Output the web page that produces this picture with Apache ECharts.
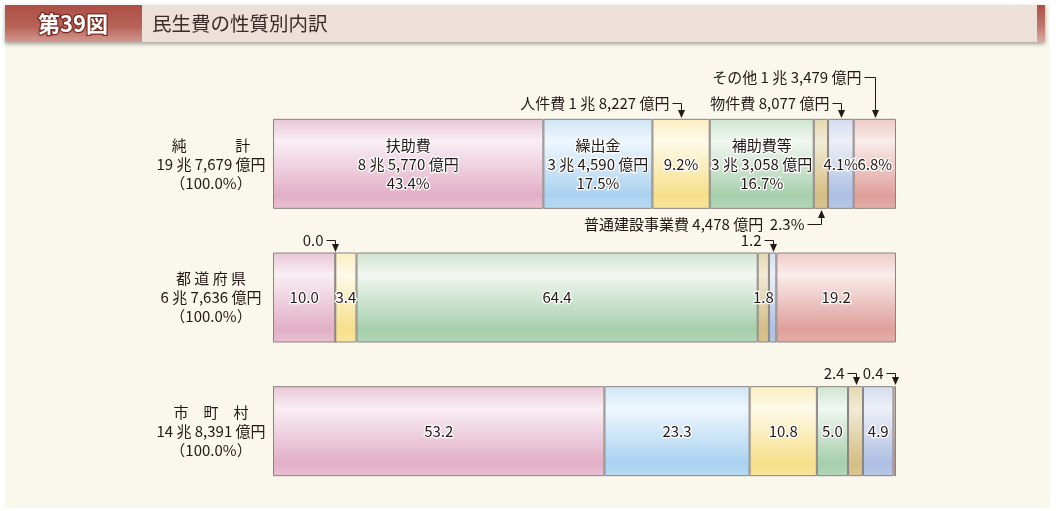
<!DOCTYPE html>
<html><head><meta charset="utf-8">
<script src="https://cdn.jsdelivr.net/npm/echarts/dist/echarts.min.js"></script>
<style>html,body{margin:0;padding:0;background:#fff;}#c{width:1059px;height:511px;}</style>
</head><body><div id="c"></div>
<script>
// ---- data ----
const rowLabels = ['純　　　 計\n19 兆 7,679 億円\n（100.0%）', '都 道 府 県\n6 兆 7,636 億円\n（100.0%）', '市　町　村\n14 兆 8,391 億円\n（100.0%）'];
const seriesNames = ['扶助費', '繰出金', '人件費', '補助費等', '普通建設事業費', '物件費', 'その他'];
const fujo      = [43.4, 10.0, 53.2];
const kuridashi = [17.5, 0.0, 23.3];
const jinken    = [9.2, 3.4, 10.8];
const hojo      = [16.7, 64.4, 5.0];
const kensetsu  = [2.3, 1.8, 2.4];
const bukken    = [4.1, 1.2, 4.9];
const sonota    = [6.8, 19.2, 0.4];
const totalAmounts = ['8 兆 5,770 億円', '3 兆 4,590 億円', '1 兆 8,227 億円', '3 兆 3,058 億円', '4,478 億円', '8,077 億円', '1 兆 3,479 億円'];
const seriesValues = [fujo, kuridashi, jinken, hojo, kensetsu, bukken, sonota];
// full (name/amount/%) inside labels in first row
const fullLabelSeries = [0, 1, 3];
// values shown outside with arrows: [series, row, text, side]
const externals = [
  [2, 0, '人件費 1 兆 8,227 億円', 'top1'],
  [5, 0, '物件費 8,077 億円', 'top1'],
  [6, 0, 'その他 1 兆 3,479 億円', 'top2'],
  [4, 0, '普通建設事業費 4,478 億円  2.3%', 'bottom'],
  [1, 1, '0.0', 'top'],
  [5, 1, '1.2', 'top'],
  [4, 2, '2.4', 'top'],
  [6, 2, '0.4', 'top']
];
const hiddenInside = ['4-0', '1-1', '5-1', '4-2', '6-2'];

// ---- styles ----
const FONT = '"Noto Sans CJK JP", "Noto Sans", sans-serif';
const palettes = [
  ['#e9c6d6', '#f9eef4', '#e2afc6', '#e8c1d2'],
  ['#cfe5f5', '#eef7fd', '#aad2f0', '#b9daf2'],
  ['#fbeec0', '#fefaea', '#f6df8a', '#f8e59c'],
  ['#cfe4d1', '#f1f7f1', '#a6cfac', '#b3d6b8'],
  ['#e4d8ae', '#f1ebd6', '#d4be84', '#d9c591'],
  ['#d3dcef', '#eef0f8', '#adbfe3', '#b7c7e6'],
  ['#eecac6', '#f9ecea', '#df9f9b', '#e4aeaa']
];
function grad(p) {
  return new echarts.graphic.LinearGradient(0, 0, 0, 1, [
    {offset: 0, color: p[0]}, {offset: 0.25, color: p[1]},
    {offset: 0.85, color: p[2]}, {offset: 1, color: p[3]}
  ]);
}

const chart = echarts.init(document.getElementById('c'), null, {renderer: 'canvas'});

const series = seriesNames.map((name, s) => ({
  name: name,
  type: 'bar',
  stack: 'total',
  barWidth: 90,
  data: seriesValues[s],
  itemStyle: {color: grad(palettes[s]), borderColor: '#8a8380', borderWidth: 1},
  label: {
    show: true,
    position: 'inside',
    color: '#231815',
    fontFamily: FONT,
    fontSize: 15,
    lineHeight: 19,
    textBorderColor: '#fff',
    textBorderWidth: 2.5,
    formatter: function (p) {
      const key = s + '-' + p.dataIndex;
      if (hiddenInside.indexOf(key) >= 0) return '';
      if (p.dataIndex === 0) {
        if (fullLabelSeries.indexOf(s) >= 0) return name + '\n' + totalAmounts[s] + '\n' + p.value.toFixed(1) + '%';
        return p.value.toFixed(1) + '%';
      }
      return p.value.toFixed(1);
    }
  },
  emphasis: {disabled: true},
  animation: false
}));

const baseGraphics = [
  {type: 'rect', shape: {x: 5, y: 5, width: 1045, height: 503}, style: {fill: '#faf7ec'}, z: -10, silent: true},
  {type: 'rect', shape: {x: 5, y: 5, width: 1040, height: 37}, style: {fill: '#ede0d9', shadowBlur: 4, shadowOffsetY: 2, shadowColor: 'rgba(0,0,0,0.35)'}, z: -9, silent: true},
  {type: 'rect', shape: {x: 5, y: 5, width: 137, height: 37},
    style: {fill: new echarts.graphic.LinearGradient(0, 0, 0, 1, [{offset: 0, color: '#ad4f45'}, {offset: 0.6, color: '#b86358'}, {offset: 1, color: '#d49a90'}])}, z: -8, silent: true},
  {type: 'rect', shape: {x: 1037, y: 5, width: 8, height: 37},
    style: {fill: new echarts.graphic.LinearGradient(0, 0, 0, 1, [{offset: 0, color: '#ad4f45'}, {offset: 0.6, color: '#c07a70'}, {offset: 1, color: '#dcaaa2'}])}, z: -8, silent: true},
  {type: 'text', x: 73, y: 24, style: {text: '第39図', fill: '#fff', font: 'bold 22px ' + FONT, align: 'center', verticalAlign: 'middle', stroke: '#7a2a22', lineWidth: 2.5}, z: 5, silent: true},
  {type: 'text', x: 152, y: 24, style: {text: '民生費の性質別内訳', fill: '#3a2c28', font: '19.5px ' + FONT, align: 'left', verticalAlign: 'middle'}, z: 5, silent: true}
];

chart.setOption({
  backgroundColor: '#ffffff',
  animation: false,
  grid: {left: 273, top: 97, width: 623, height: 401, containLabel: false},
  xAxis: {type: 'value', min: 0, max: 100, show: false},
  yAxis: {
    type: 'category', data: rowLabels, inverse: true,
    axisLine: {show: false}, axisTick: {show: false},
    axisLabel: {align: 'center', margin: 62, color: '#231815', fontFamily: FONT, fontSize: 15, lineHeight: 19}
  },
  series: series,
  graphic: baseGraphics
});

// ---- external annotations positioned through the chart's scales ----
const ann = [];
const half = 45;
externals.forEach(function (e) {
  const s = e[0], r = e[1];
  let start = 0;
  for (let i = 0; i < s; i++) start += seriesValues[i][r];
  const mid = start + seriesValues[s][r] / 2;
  const pt = chart.convertToPixel({gridIndex: 0}, [mid, r]);
  const x = Math.round(pt[0]) + 0.5;
  const top = Math.round(pt[1] - half);
  const bottom = Math.round(pt[1] + half);
  let lineY, tip, gap, dir;
  if (e[3] === 'bottom') { lineY = bottom + 15.5; tip = bottom + 1; gap = 14; dir = -1; }
  else if (e[3] === 'top2') { lineY = top - 41.5; tip = top - 1; gap = 11; dir = 1; }
  else if (e[3] === 'top1') { lineY = top - 15.5; tip = top - 1; gap = 9; dir = 1; }
  else { lineY = top - 12.5; tip = top - 1; gap = 9; dir = 1; }
  ann.push({type: 'text', x: x - gap - 3, y: lineY, style: {text: e[2], fill: '#231815', font: '15px ' + FONT, align: 'right', verticalAlign: 'middle'}, z: 10, silent: true});
  const arrowBase = tip - dir * 8;
  ann.push({type: 'polyline', shape: {points: [[x - gap, lineY], [x, lineY], [x, arrowBase]]}, style: {stroke: '#231815', lineWidth: 1, fill: null}, z: 10, silent: true});
  ann.push({type: 'polygon', shape: {points: [[x - 3.5, arrowBase], [x + 3.5, arrowBase], [x, tip]]}, style: {fill: '#231815'}, z: 10, silent: true});
});
chart.setOption({graphic: baseGraphics.concat(ann)}, {replaceMerge: ['graphic']});
</script>
</body></html>
